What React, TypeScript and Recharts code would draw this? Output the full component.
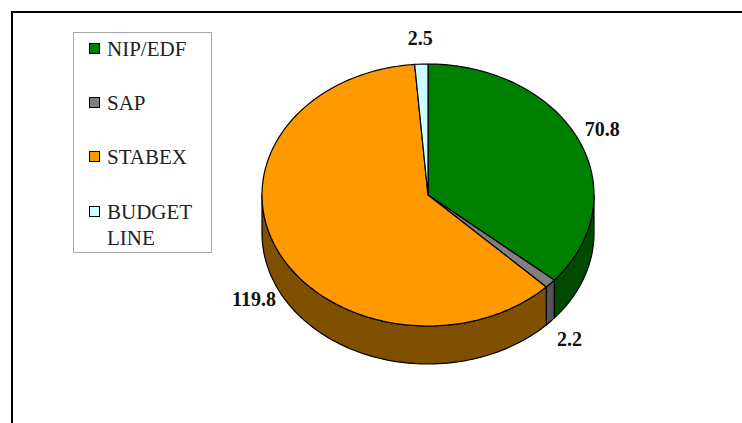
import React from "react";
import { PieChart, Pie } from "recharts";

// values from the reference
const names = ["NIP/EDF", "SAP", "STABEX", "BUDGET LINE"];
const values = [70.8, 2.2, 119.8, 2.5];
const topColors = ["#008000", "#808080", "#ff9900", "#ccffff"];
const sideColors = ["#004a00", "#555555", "#7f5000", "#8aaaaa"];
const legendLines = [["NIP/EDF"], ["SAP"], ["STABEX"], ["BUDGET", "LINE"]];

const data = names.map((name, i) => ({ name, value: values[i] }));

const FONT = "'Liberation Serif', 'Times New Roman', 'DejaVu Serif', serif";
const RX = 166;
const RY = 131;
const DEPTH = 38;
const RAD = Math.PI / 180;

function pt(cx: number, cy: number, a: number, dy = 0) {
  return [cx + RX * Math.cos(a * RAD), cy - RY * Math.sin(a * RAD) + dy];
}

function arcPts(cx: number, cy: number, from: number, to: number, dy = 0) {
  const n = Math.max(2, Math.ceil(Math.abs(from - to) / 1.5));
  const out: string[] = [];
  for (let k = 0; k <= n; k++) {
    const a = from + ((to - from) * k) / n;
    const [x, y] = pt(cx, cy, a, dy);
    out.push(`${x.toFixed(2)},${y.toFixed(2)}`);
  }
  return out;
}

const Slice3D = (props: any) => {
  const { cx, cy, startAngle, endAngle } = props;
  const name = props.name ?? props.payload?.name;
  const i = names.indexOf(name);
  const top = `M${cx},${cy} L${arcPts(cx, cy, startAngle, endAngle).join(" L")} Z`;
  const hi = Math.min(startAngle, 0);
  const lo = Math.max(endAngle, -180);
  let side = null;
  if (hi > lo) {
    const upper = arcPts(cx, cy, hi, lo);
    const lower = arcPts(cx, cy, lo, hi, DEPTH);
    side = (
      <path
        d={`M${upper.join(" L")} L${lower.join(" L")} Z`}
        fill={sideColors[i]}
        stroke="#000"
        strokeWidth={1.2}
        strokeLinejoin="round"
      />
    );
  }
  return (
    <g>
      {side}
      <path d={top} fill={topColors[i]} stroke="#000" strokeWidth={1.2} strokeLinejoin="round" />
    </g>
  );
};

const renderLabel = (p: any) => {
  const { cx, cy, midAngle, value } = p;
  const off = 26;
  const x = cx + (RX + off) * Math.cos(midAngle * RAD);
  const s = Math.sin(midAngle * RAD);
  const y = cy - (RY + off) * s + (s < 0 ? DEPTH : 0);
  return (
    <text
      x={x}
      y={y}
      textAnchor="middle"
      dominantBaseline="central"
      fontFamily={FONT}
      fontWeight="bold"
      fontSize={20}
      fill="#111"
    >
      {value}
    </text>
  );
};

const legendCenters = [49, 103, 157, 212];

export default function App() {
  return (
    <div style={{ position: "absolute", left: 0, top: 0, width: 742, height: 423, background: "#fff", overflow: "hidden" }}>
      <div
        style={{
          position: "absolute",
          left: 11,
          top: 11,
          width: 800,
          height: 500,
          borderLeft: "2px solid #000",
          borderTop: "2px solid #000",
        }}
      />
      <div style={{ position: "absolute", left: 0, top: 0 }}>
        <PieChart width={742} height={423} margin={{ top: 0, right: 0, bottom: 0, left: 0 }}>
          <Pie
            data={data}
            dataKey="value"
            nameKey="name"
            cx={428}
            cy={195}
            outerRadius={RX}
            startAngle={90}
            endAngle={-270}
            shape={Slice3D}
            label={renderLabel}
            labelLine={false}
            isAnimationActive={false}
          />
        </PieChart>
      </div>
      <div
        style={{
          position: "absolute",
          left: 73,
          top: 32,
          width: 139,
          height: 221,
          boxSizing: "border-box",
          border: "1px solid #a8a8a8",
          background: "#fff",
        }}
      >
        {names.map((n, i) => (
          <React.Fragment key={n}>
            <div
              style={{
                position: "absolute",
                left: 15,
                top: legendCenters[i] - 32 - 7,
                width: 9,
                height: 9,
                border: "1.5px solid #000",
                background: topColors[i],
              }}
            />
            <div
              style={{
                position: "absolute",
                left: 33,
                top: legendCenters[i] - 32 - 1 - 13,
                fontFamily: FONT,
                fontSize: 21,
                lineHeight: "26px",
                color: "#222",
                whiteSpace: "nowrap",
              }}
            >
              {legendLines[i].map((l) => (
                <div key={l}>{l}</div>
              ))}
            </div>
          </React.Fragment>
        ))}
      </div>
    </div>
  );
}
